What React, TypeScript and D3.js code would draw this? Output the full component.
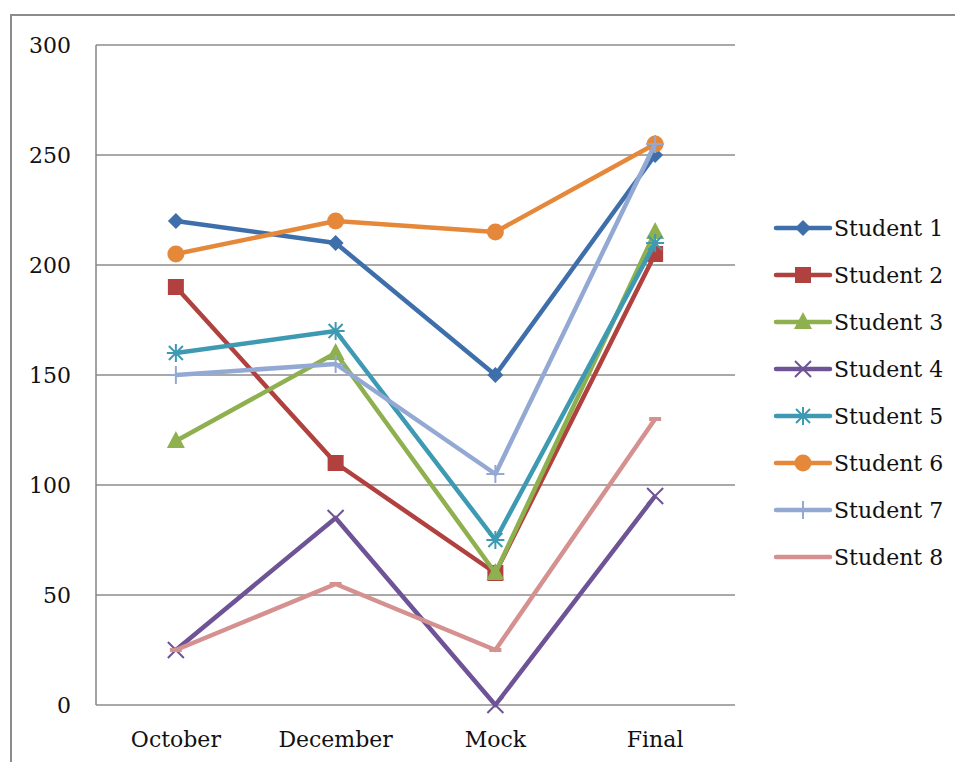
import React from "react";
import * as d3 from "d3";

const categories = ["October", "December", "Mock", "Final"];
const seriesNames = ["Student 1", "Student 2", "Student 3", "Student 4", "Student 5", "Student 6", "Student 7", "Student 8"];
const student1 = [220, 210, 150, 250];
const student2 = [190, 110, 60, 205];
const student3 = [120, 160, 60, 215];
const student4 = [25, 85, 0, 95];
const student5 = [160, 170, 75, 210];
const student6 = [205, 220, 215, 255];
const student7 = [150, 155, 105, 255];
const student8 = [25, 55, 25, 130];
const yTicks = [0, 50, 100, 150, 200, 250, 300];

const seriesValues = [student1, student2, student3, student4, student5, student6, student7, student8];
const colors = ["#3F6FAA", "#B0413E", "#8EB04E", "#6E5496", "#3D9AB2", "#E6883A", "#93A9D4", "#D49190"];
const markers = ["diamond", "square", "triangle", "x", "star", "circle", "plus", "dash"];

const W = 955;
const H = 762;
const plot = { left: 96, right: 735, top: 45, bottom: 705 };
const FONT = "'DejaVu Serif', serif";
const FS = 22;

function Marker({ kind, x, y, color }: { kind: string; x: number; y: number; color: string }) {
  switch (kind) {
    case "diamond":
      return <path d={`M${x},${y - 8}L${x + 8},${y}L${x},${y + 8}L${x - 8},${y}Z`} fill={color} />;
    case "square":
      return <rect x={x - 8} y={y - 8} width={16} height={16} fill={color} />;
    case "triangle":
      return <path d={`M${x},${y - 10}L${x + 9},${y + 7}L${x - 9},${y + 7}Z`} fill={color} />;
    case "x":
      return (
        <path d={`M${x - 8},${y - 8}L${x + 8},${y + 8}M${x - 8},${y + 8}L${x + 8},${y - 8}`} stroke={color} strokeWidth={2} />
      );
    case "star":
      return (
        <path
          d={`M${x - 7},${y - 7}L${x + 7},${y + 7}M${x - 7},${y + 7}L${x + 7},${y - 7}M${x},${y - 9}L${x},${y + 9}M${x - 9},${y}L${x + 9},${y}`}
          stroke={color}
          strokeWidth={2}
        />
      );
    case "circle":
      return <circle cx={x} cy={y} r={8.5} fill={color} />;
    case "plus":
      return <path d={`M${x},${y - 9}L${x},${y + 9}M${x - 9},${y}L${x + 9},${y}`} stroke={color} strokeWidth={2} />;
    case "dash":
      return <path d={`M${x - 6},${y}L${x + 6},${y}`} stroke={color} strokeWidth={4} />;
    default:
      return null;
  }
}

export default function App() {
  const x = d3.scaleBand<string>().domain(categories).range([plot.left, plot.right]);
  const y = d3.scaleLinear().domain([0, 300]).range([plot.bottom, plot.top]);
  const cx = (c: string) => (x(c) as number) + x.bandwidth() / 2;
  const line = d3
    .line<number>()
    .x((_, i) => cx(categories[i]))
    .y((v) => y(v));

  const legendX = 776;
  const legendY0 = 228;
  const legendStep = 47;

  return (
    <svg width={W} height={H} style={{ position: "absolute", left: 0, top: 0, background: "#fff" }}>
      <rect x={11} y={15} width={W + 20} height={H + 20} fill="#fff" stroke="#8c8c8c" strokeWidth={2} />
      {yTicks.map((t) => (
        <g key={t}>
          <line x1={plot.left} x2={plot.right} y1={y(t)} y2={y(t)} stroke="#8c8c8c" strokeWidth={1.6} />
          <text x={71} y={y(t)} dy="0.35em" textAnchor="end" fontFamily={FONT} fontSize={FS} fill="#111">
            {t}
          </text>
        </g>
      ))}
      <line x1={plot.left} x2={plot.left} y1={plot.top} y2={plot.bottom} stroke="#8c8c8c" strokeWidth={1.6} />
      {categories.map((c) => (
        <text key={c} x={cx(c)} y={747} textAnchor="middle" fontFamily={FONT} fontSize={FS} fill="#111">
          {c}
        </text>
      ))}
      {seriesValues.map((vals, si) => (
        <g key={si}>
          <path d={line(vals) as string} fill="none" stroke={colors[si]} strokeWidth={4.5} strokeLinejoin="round" />
          {vals.map((v, i) => (
            <Marker key={i} kind={markers[si]} x={cx(categories[i])} y={y(v)} color={colors[si]} />
          ))}
        </g>
      ))}
      {seriesNames.map((name, si) => {
        const ly = legendY0 + si * legendStep;
        return (
          <g key={name}>
            <line x1={legendX} x2={legendX + 54} y1={ly} y2={ly} stroke={colors[si]} strokeWidth={4.5} strokeLinecap="round" />
            <Marker kind={markers[si]} x={legendX + 27} y={ly} color={colors[si]} />
            <text x={834} y={ly} dy="0.35em" fontFamily={FONT} fontSize={FS} fill="#111">
              {name}
            </text>
          </g>
        );
      })}
    </svg>
  );
}
